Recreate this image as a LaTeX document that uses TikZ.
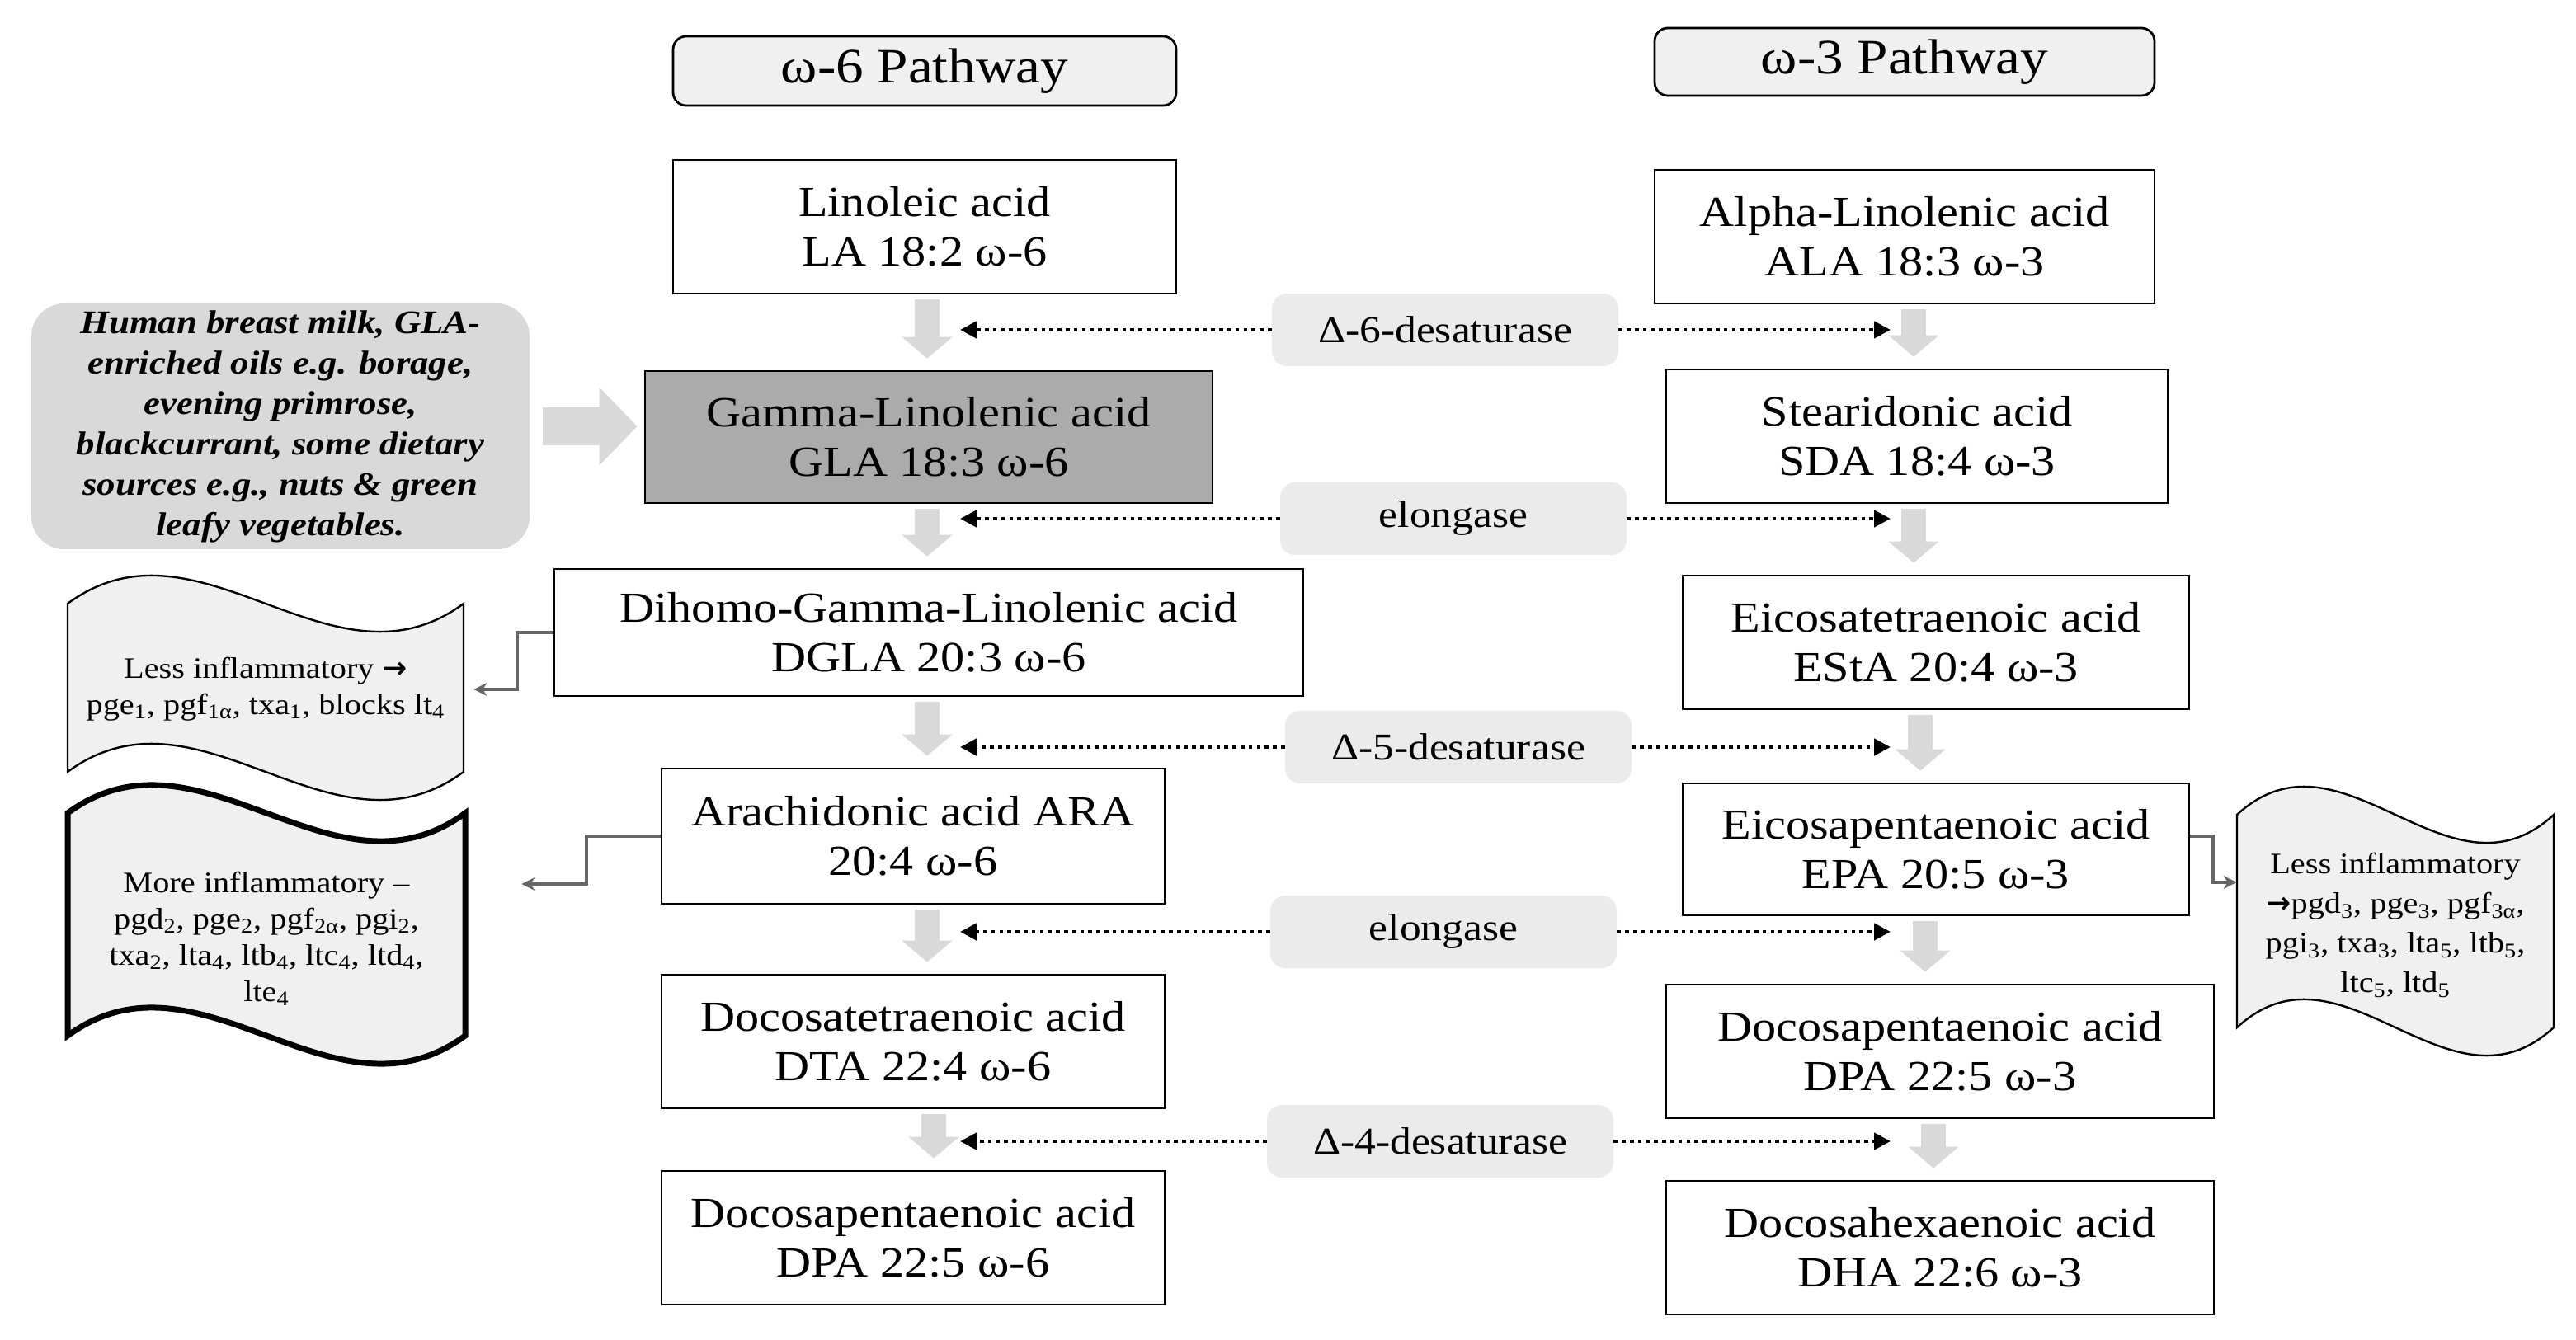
\documentclass[tikz,border=0pt]{standalone}
\usepackage{fontspec}
\setmainfont{Liberation Serif}[FakeStretch=1.12]
\newfontfamily\arrowfont{DejaVu Sans}
\newcommand{\rarr}{{\arrowfont\bfseries →}}
\usetikzlibrary{arrows.meta,calc}
\newcommand{\wavyshape}[5]{%
  \path[#5] (#1,#3) .. controls ({#1+(#2-#1)/3},{#3-59}) and ({#1+2*(#2-#1)/3},{#3+59}) .. (#2,#3)
    -- (#2,#4) .. controls ({#1+2*(#2-#1)/3},{#4+59}) and ({#1+(#2-#1)/3},{#4-59}) .. (#1,#4) -- cycle;}
\begin{document}
\begin{tikzpicture}[x=1pt,y=-1pt,
  acid/.style={draw=black, line width=1.4pt, fill=white, minimum height=81pt, align=center,
    font=\fontsize{26}{30}\selectfont, inner sep=0pt},
  hdr/.style={draw=black, line width=1.4pt, fill=black!6, rounded corners=8pt, minimum width=305pt,
    minimum height=42pt, font=\fontsize{30}{32}\selectfont, inner sep=0pt},
  enz/.style={fill=black!8, rounded corners=9pt, minimum width=210pt, minimum height=44pt,
    font=\fontsize{23}{26}\selectfont, inner sep=0pt},
  dotarr/.style={line width=2.4pt, dash pattern=on 2.3pt off 2.6pt, -{Triangle[width=10pt,length=10pt]}},
  blk/.style={draw=black!15, line width=15pt, -{Triangle[width=30pt,length=13pt]}, shorten <=3pt, shorten >=7pt},
  conn/.style={draw=black!60, line width=2pt, -{Stealth[length=8pt,width=8pt]}},
  wtext/.style={align=center, inner sep=0pt, font=\fontsize{18}{22}\selectfont},
  wthin/.style={draw=black, line width=1.2pt, fill=black!6},
  wthick/.style={draw=black, line width=3.5pt, fill=black!6}
]
\useasboundingbox (0,0) rectangle (1561.5,812.5);

% headers
\node[hdr] (hdr6) at (560.5,43) {ω-6 Pathway};
\node[hdr, minimum width=303pt, minimum height=41pt] (hdr3) at (1154.5,37.5) {ω-3 Pathway};

% omega-6 column
\node[acid, minimum width=305pt] (la) at (560.5,137.5) {Linoleic acid\\LA 18:2 ω-6};
\node[acid, minimum width=344pt, minimum height=80pt, fill=black!33] (gla) at (563,265) {Gamma-Linolenic acid\\GLA 18:3 ω-6};
\node[acid, minimum width=454pt, minimum height=77pt] (dgla) at (563,383.5) {Dihomo-Gamma-Linolenic acid\\DGLA 20:3 ω-6};
\node[acid, minimum width=305pt, minimum height=82pt] (ara) at (553.5,507) {Arachidonic acid ARA\\20:4 ω-6};
\node[acid, minimum width=305pt] (dta) at (553.5,631.5) {Docosatetraenoic acid\\DTA 22:4 ω-6};
\node[acid, minimum width=305pt] (dpa6) at (553.5,750.5) {Docosapentaenoic acid\\DPA 22:5 ω-6};

% omega-3 column
\node[acid, minimum width=303pt] (ala) at (1154.5,143.5) {Alpha-Linolenic acid\\ALA 18:3 ω-3};
\node[acid, minimum width=304pt] (sda) at (1162,264.5) {Stearidonic acid\\SDA 18:4 ω-3};
\node[acid, minimum width=307pt] (esta) at (1173.5,389.5) {Eicosatetraenoic acid\\EStA 20:4 ω-3};
\node[acid, minimum width=307pt, minimum height=80pt] (epa) at (1173.5,515) {Eicosapentaenoic acid\\EPA 20:5 ω-3};
\node[acid, minimum width=332pt] (dpa3) at (1176,637.5) {Docosapentaenoic acid\\DPA 22:5 ω-3};
\node[acid, minimum width=332pt] (dha) at (1176,756.5) {Docosahexaenoic acid\\DHA 22:6 ω-3};

% enzymes
\node[enz] (e1) at (876,200) {Δ-6-desaturase};
\node[enz] (e2) at (881,314.5) {elongase};
\node[enz] (e3) at (884,453) {Δ-5-desaturase};
\node[enz] (e4) at (875,565) {elongase};
\node[enz] (e5) at (873,692) {Δ-4-desaturase};

% column coordinates
\coordinate (a6) at (562,0);
\coordinate (a6b) at (566,0);
\coordinate (r1) at (1160,0);
\coordinate (r3) at (1164,0);
\coordinate (r4) at (1167,0);
\coordinate (r5) at (1172,0);
\coordinate (dl) at (582,0);
\coordinate (dr) at (1146,0);

% block arrows
\draw[blk] (la.south -| a6) -- (gla.north -| a6);
\draw[blk] (gla.south -| a6) -- (dgla.north -| a6);
\draw[blk] (dgla.south -| a6) -- (ara.north -| a6);
\draw[blk] (ara.south -| a6) -- (dta.north -| a6);
\draw[blk] (dta.south -| a6b) -- (dpa6.north -| a6b);
\draw[blk] (ala.south -| r1) -- (sda.north -| r1);
\draw[blk] (sda.south -| r1) -- (esta.north -| r1);
\draw[blk] (esta.south -| r3) -- (epa.north -| r3);
\draw[blk] (epa.south -| r4) -- (dpa3.north -| r4);
\draw[blk] (dpa3.south -| r5) -- (dha.north -| r5);

% dotted enzyme arrows
\foreach \e in {e1,e2,e3,e4,e5}{
  \draw[dotarr] (\e.west) -- (\e.west -| dl);
  \draw[dotarr] (\e.east) -- (\e.east -| dr);
}

% source box
\node[fill=black!15, rounded corners=20pt, minimum width=302pt, minimum height=149pt, align=center,
  inner sep=0pt, font=\fontsize{20}{24.5}\selectfont\bfseries\itshape] (src) at (170,258.5)
  {Human breast milk, GLA-\\enriched oils e.g. borage,\\evening primrose,\\blackcurrant, some dietary\\sources e.g., nuts \& green\\leafy vegetables.};
\draw[draw=black!15, line width=23pt, -{Triangle[width=46pt,length=23pt]}, shorten <=8pt, shorten >=4pt]
  (src.east) -- (src.east -| gla.west);

% wavy boxes
\wavyshape{41}{281}{366}{468}{wthin}
\wavyshape{41}{282}{493}{628}{wthick}
\wavyshape{1356}{1548}{494}{623}{wthin}
\node[wtext, minimum width=240pt] (lessL) at (161,418)
  {Less inflammatory \rarr\\pge\textsubscript{1}, pgf\textsubscript{1α}, txa\textsubscript{1}, blocks lt\textsubscript{4}};
\node[wtext, minimum width=241pt] (moreL) at (161.5,569)
  {More inflammatory –\\pgd\textsubscript{2}, pge\textsubscript{2}, pgf\textsubscript{2α}, pgi\textsubscript{2},\\txa\textsubscript{2}, lta\textsubscript{4}, ltb\textsubscript{4}, ltc\textsubscript{4}, ltd\textsubscript{4},\\lte\textsubscript{4}};
\node[wtext, minimum width=192pt, font=\fontsize{18}{24}\selectfont] (lessR) at (1452,561)
  {Less inflammatory\\\rarr pgd\textsubscript{3}, pge\textsubscript{3}, pgf\textsubscript{3α},\\pgi\textsubscript{3}, txa\textsubscript{3}, lta\textsubscript{5}, ltb\textsubscript{5},\\ltc\textsubscript{5}, ltd\textsubscript{5}};

% side connectors
\draw[conn, shorten >=6pt] (dgla.west) -- ++(-22,0) |- (lessL.east);
\draw[conn, shorten >=34pt] (ara.west) -- ++(-45,0) |- ([yshift=33pt]moreL.east);
\draw[conn] ([yshift=8pt]epa.east) -- ++(14,0) |- ([yshift=26pt]lessR.west);
\end{tikzpicture}
\end{document}
